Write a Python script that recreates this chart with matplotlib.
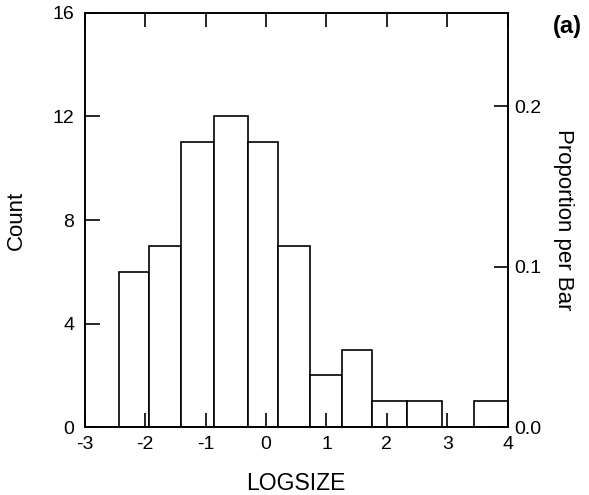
import matplotlib.pyplot as plt

plt.rcParams['font.family'] = ['Liberation Sans', 'DejaVu Sans']
plt.rcParams['axes.unicode_minus'] = False

# histogram of LOGSIZE (bar edges and counts)
bin_edges = [-2.44, -1.94, -1.41, -0.86, -0.30, 0.20, 0.73, 1.25, 1.76, 2.34, 2.92, 3.45, 4.00]
counts = [6, 7, 11, 12, 11, 7, 2, 3, 1, 1, 0, 1]
x_ticks = [-3, -2, -1, 0, 1, 2, 3, 4]
count_ticks = [0, 4, 8, 12, 16]
prop_ticks = [0.0, 0.1, 0.2]
n_total = sum(counts)

fig = plt.figure(figsize=(5.89, 4.95), dpi=100)
ax = fig.add_axes([0.144, 0.137, 0.718, 0.837])

lefts = bin_edges[:-1]
widths = [b - a for a, b in zip(bin_edges[:-1], bin_edges[1:])]
ax.bar(lefts, counts, width=widths, align='edge', facecolor='white',
       edgecolor='black', linewidth=1.2)

ax.set_xlim(-3, 4)
ax.set_ylim(0, 16)
ax.set_xticks(x_ticks)
ax.set_xticklabels([str(t) for t in x_ticks])
ax.set_yticks(count_ticks)
ax.tick_params(axis='x', direction='in', length=10, width=1.2, pad=6,
               labelsize=14, top=True)
ax.tick_params(axis='y', direction='in', length=11, width=1.2, pad=7.5,
               labelsize=14)
for s in ax.spines.values():
    s.set_linewidth(1.2)

ax.set_xlabel('LOGSIZE', fontsize=16.5, va='center')
ax.xaxis.set_label_coords(0.5, -0.135)
ax.set_ylabel('Count', fontsize=16, va='center')
ax.yaxis.set_label_coords(-0.161, 0.5)

# proportion axis on the right
ax2 = ax.twinx()
ax2.set_ylim(0, 16 / n_total)
ax2.set_yticks(prop_ticks)
ax2.set_yticklabels(['0.0', '0.1', '0.2'])
ax2.tick_params(axis='y', direction='in', length=10, width=1.2, pad=5,
                labelsize=14)
for s in ax2.spines.values():
    s.set_linewidth(1.2)
ax2.set_ylabel('Proportion per Bar', fontsize=16, rotation=270, va='center')
ax2.yaxis.set_label_coords(1.133, 0.5)

fig.text(0.963, 0.947, '(a)', fontsize=17, fontweight='bold', ha='center', va='center')

fig.savefig('out.png', dpi=100)
